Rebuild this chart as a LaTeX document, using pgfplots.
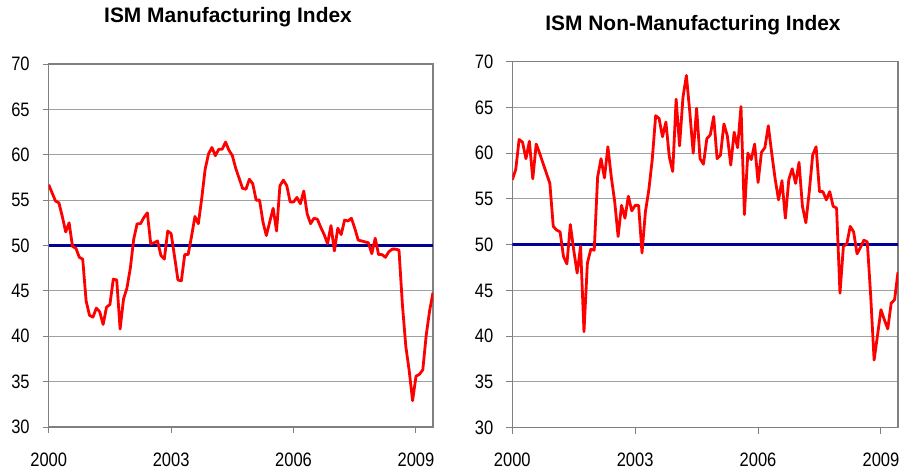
\documentclass[border=0pt]{standalone}
\usepackage{fontspec}
\setmainfont{Liberation Sans}
\newfontfamily\narrowfont[FakeStretch=0.85]{Liberation Sans}
\usepackage{pgfplots}
\pgfplotsset{compat=1.18}
\usepackage{pgfplotstable}
\definecolor{navyline}{RGB}{0,0,150}
\definecolor{axgray}{RGB}{128,128,128}
\definecolor{gridgray}{RGB}{160,160,160}

\pgfplotstableread{
m v
0 56.7
1 55.8
2 54.9
3 54.7
4 53.2
5 51.5
6 52.5
7 49.9
8 49.7
9 48.7
10 48.5
11 43.9
12 42.3
13 42.1
14 43.1
15 42.7
16 41.3
17 43.2
18 43.5
19 46.3
20 46.2
21 40.8
22 44.1
23 45.3
24 47.5
25 50.7
26 52.4
27 52.4
28 53.1
29 53.6
30 50.2
31 50.3
32 50.5
33 48.9
34 48.5
35 51.6
36 51.3
37 48.8
38 46.2
39 46.1
40 49.0
41 49.0
42 51.0
43 53.2
44 52.4
45 55.2
46 58.4
47 60.1
48 60.8
49 59.9
50 60.6
51 60.6
52 61.4
53 60.5
54 59.9
55 58.5
56 57.4
57 56.3
58 56.2
59 57.3
60 56.8
61 55.0
62 55.0
63 52.6
64 51.1
65 52.6
66 54.1
67 51.6
68 56.6
69 57.2
70 56.6
71 54.8
72 54.8
73 55.3
74 54.6
75 56.0
76 53.5
77 52.4
78 53.0
79 52.9
80 52.0
81 51.2
82 50.2
83 52.2
84 49.4
85 51.9
86 51.2
87 52.8
88 52.7
89 53.0
90 51.9
91 50.6
92 50.5
93 50.4
94 50.3
95 49.1
96 50.8
97 49.0
98 49.0
99 48.7
100 49.3
101 49.6
102 49.6
103 49.5
104 43.5
105 38.9
106 36.2
107 32.9
108 35.6
109 35.8
110 36.3
111 40.1
112 42.8
113 44.8
}\mfg

\pgfplotstableread{
m v
0 57.1
1 58.2
2 61.5
3 61.2
4 59.4
5 61.3
6 57.2
7 61.0
8 60.0
9 58.9
10 57.8
11 56.7
12 52.0
13 51.6
14 51.4
15 48.7
16 47.9
17 52.2
18 49.4
19 46.9
20 49.8
21 40.5
22 48.0
23 49.5
24 49.4
25 57.4
26 59.4
27 57.3
28 60.7
29 57.4
30 54.7
31 50.9
32 54.3
33 52.9
34 55.3
35 53.7
36 54.3
37 54.3
38 49.1
39 53.6
40 56.0
41 59.3
42 64.1
43 63.8
44 61.8
45 63.4
46 59.6
47 58.0
48 65.9
49 60.8
50 66.1
51 68.5
52 64.5
53 60.0
54 64.9
55 59.4
56 58.8
57 61.6
58 62.0
59 64.0
60 59.4
61 59.8
62 63.2
63 61.9
64 58.7
65 62.3
66 60.6
67 65.1
68 53.3
69 60.0
70 59.3
71 61.0
72 56.8
73 60.1
74 60.6
75 63.0
76 60.0
77 57.2
78 54.9
79 57.0
80 52.9
81 57.1
82 58.3
83 56.7
84 59.0
85 54.2
86 52.4
87 55.8
88 59.8
89 60.7
90 55.8
91 55.8
92 54.9
93 55.8
94 54.2
95 54.0
96 44.7
97 49.8
98 50.1
99 52.0
100 51.4
101 49.0
102 49.7
103 50.5
104 50.3
105 44.4
106 37.4
107 40.1
108 42.9
109 41.8
110 40.8
111 43.6
112 44.0
113 47.0
}\nonmfg

\pgfplotsset{
  ismstyle/.style={
    scale only axis,
    xmin=0, xmax=113,
    ymin=30, ymax=70,
    ytick={30,35,...,70},
    xtick={0,36,72,108},
    xticklabels={2000,2003,2006,2009},
    ymajorgrids,
    grid style={draw=gridgray, line width=1bp},
    axis line style={draw=axgray, line width=1.5bp},
    tick style={draw=axgray, line width=1bp},
    tick align=outside,
    major tick length=6bp,
    xtick pos=bottom,
    ytick pos=left,
    tick label style={font=\narrowfont\fontsize{19.5}{21}\selectfont},
    /pgf/number format/assume math mode=true,
    yticklabel style={xshift=-9.5bp},
    xticklabel style={yshift=-16bp},
    title style={font=\bfseries\fontsize{21}{23}\selectfont, anchor=base},
  }
}

\begin{document}
\begin{tikzpicture}
\path[use as bounding box] (0bp,0bp) rectangle (901bp,473bp);
\begin{axis}[ismstyle,
  at={(48.7bp,46bp)}, anchor=south west,
  width=384.3bp, height=363bp,
  title={ISM Manufacturing Index},
  title style={at={(axis description cs:0.4666,1)}, yshift=35.7bp}]
  \addplot[navyline, line width=2.8bp, no markers] coordinates {(0,50) (113,50)};
  \addplot[red, line width=2.8bp, no markers, line join=round] table[x=m,y=v] {\mfg};
\end{axis}
\begin{axis}[ismstyle,
  at={(512.3bp,45.3bp)}, anchor=south west,
  width=385.7bp, height=366bp,
  title={ISM Non-Manufacturing Index},
  title style={at={(axis description cs:0.4685,1)}, yshift=25bp}]
  \addplot[navyline, line width=2.8bp, no markers] coordinates {(0,50) (113,50)};
  \addplot[red, line width=2.8bp, no markers, line join=round] table[x=m,y=v] {\nonmfg};
\end{axis}
\end{tikzpicture}
\end{document}
